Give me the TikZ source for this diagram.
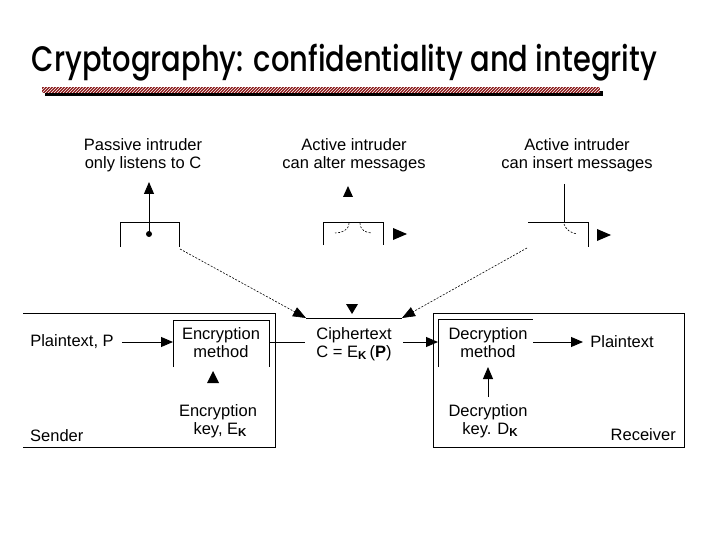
\documentclass[tikz,border=0pt]{standalone}
\usepackage{fontspec}
\setmainfont{Liberation Sans}
\newfontfamily\titlefont{Poppins}[BoldFont={* Medium}]
\usetikzlibrary{arrows.meta}
\definecolor{barred}{RGB}{140,28,28}
\tikzset{
  lbl/.style={align=center, inner sep=0pt, font=\fontsize{16.5}{18}\selectfont},
  ln/.style={line width=0.9pt},
  arr/.style={ln, -{Triangle[length=12pt,width=10pt]}},
  dsh/.style={line width=0.6pt, dash pattern=on 2pt off 1.5pt},
  darr/.style={dsh, -{Triangle[length=13pt,width=10pt]}},
  head/.style={fill=black}
}
\begin{document}
\begin{tikzpicture}[x=1pt,y=-1pt]
\useasboundingbox (0,0) rectangle (720,540);
% title
\node[inner sep=0pt] (title) at (344.5,63) {\resizebox*{625pt}{37pt}{\titlefont\bfseries\fontsize{28}{30}\selectfont Cryptography: confidentiality and integrity}};
% hatched bar
\fill[black] (45,91) rectangle (603,96);
\fill[barred] (42,87) rectangle (600,93);
\begin{scope}
\clip (42,87) rectangle (600,93);
\foreach \i in {36,39,...,606} \draw[white, line width=0.6pt] (\i,93) -- (\i+6,87);
\end{scope}
% top labels
\node[lbl] (passive) at (143,155) {Passive intruder\\only listens to C};
\node[lbl] (alter) at (354,155) {Active intruder\\can alter messages};
\node[lbl] (insert) at (577,155) {Active intruder\\can insert messages};
% passive box
\coordinate (pdot) at (149,234);
\coordinate (ptop) at (149,182);
\fill (pdot) circle (3);
\draw[arr] (pdot) -- (ptop);
\draw[ln] (120,247) -- (120,222) -- (179,222) -- (179,247);
\coordinate (pcorner) at (180,249);
% alter box
\draw[ln] (323,245) -- (323,222) -- (383,222) -- (383,245);
\fill[head] (343,197) -- (348,186) -- (353,197) -- cycle;
\draw[dsh] (349,223) .. controls (349,230) and (342,233) .. (335,233);
\draw[dsh] (360,223) .. controls (360,230) and (366,233) .. (372,233);
\fill[head] (393,228) -- (407,234) -- (393,240) -- cycle;
% insert box
\draw[ln] (564,184) -- (564,222);
\draw[ln] (528,222) -- (588,222) -- (588,247);
\draw[dsh] (564,224) .. controls (566,230) and (571,233) .. (577,234);
\fill[head] (597,229) -- (611,235) -- (597,241) -- cycle;
\coordinate (icorner) at (527,248);
% ciphertext
\node[lbl] (cipher) at (354,344) {Ciphertext\\C = E\textsubscript{\textbf{K}}\,(\textbf{P})};
\coordinate (cl) at (306,318);
\coordinate (cr) at (402,318);
\coordinate (cin) at (305,342);
\coordinate (cout) at (403,342);
\draw[ln] (cl) -- (cr);
\fill[head] (346,304) -- (358,304) -- (352,314) -- cycle;
\draw[darr] (pcorner) -- (cl);
\draw[darr] (icorner) -- (cr);
% sender
\draw[ln] (23,313) -- (275,313) -- (275,447) -- (23,447);
\draw[ln] (173,367) -- (173,320) -- (269,320) -- (269,367);
\node[lbl] (pt) at (72,342) {Plaintext, P};
\node[lbl] (enc) at (221,343) {Encryption\\method};
\node[lbl] (enckey) at (218,421) {Encryption\\\ key, E\textsubscript{\textbf{K}}};
\node[lbl, anchor=west] (sender) at (30,436) {Sender};
\fill[head] (207,383) -- (213,371) -- (219,383) -- cycle;
\draw[arr] (pt.east) ++(8,0) -- (173,342);
\draw[ln] (269,342) -- (cin);
% receiver
\draw[ln] (433,313) rectangle (684,447);
\draw[ln] (438,367) -- (438,319) -- (533,319);
\node[lbl] (dec) at (488,343) {Decryption\\method};
\node[lbl] (deckey) at (488,421) {Decryption\\\ key. D\textsubscript{\textbf{K}}};
\node[lbl] (ptout) at (622,342) {Plaintext};
\node[lbl, anchor=east] (recv) at (676,435) {Receiver};
\coordinate (ptin) at (583,342);
\draw[arr] (cout) -- (438,342);
\draw[arr] (533,342) -- (ptin);
\draw[arr] (488,397) -- (488,367);
\end{tikzpicture}
\end{document}
